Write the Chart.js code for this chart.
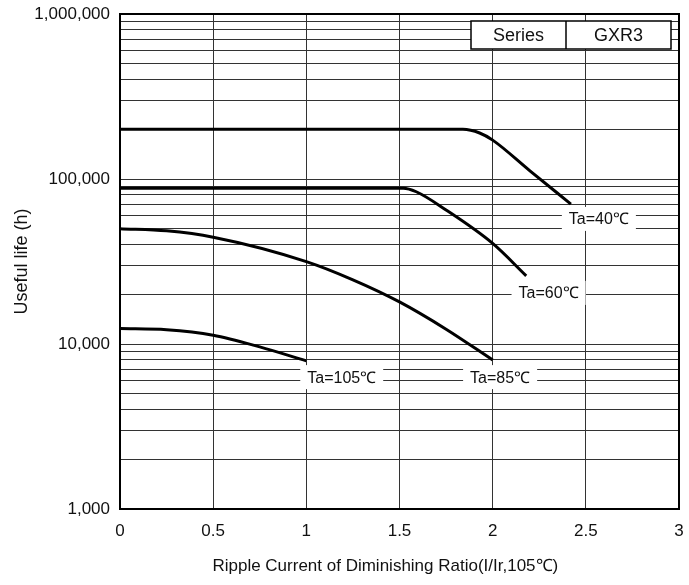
<!DOCTYPE html>
<html>
<head>
<meta charset="utf-8">
<script src="https://cdn.jsdelivr.net/npm/chart.js@4.4.1/dist/chart.umd.min.js"></script>
<style>
  html, body { margin: 0; padding: 0; background: #fff; }
  #wrap { width: 689px; height: 585px; }
</style>
</head>
<body>
<div id="wrap"><canvas id="lifeChart" width="689" height="585"></canvas></div>
<script>
// Useful life vs ripple current ratio - series GXR3

// x = ripple current ratio (I/Ir), y = useful life (h)
const ratio40 = [0, 1.84, 1.93, 2.0, 2.2, 2.42];
const life40 = [200000, 200000, 190000, 172000, 112000, 70500];

const ratio60 = [0, 1.52, 1.59, 1.75, 2.0, 2.18];
const life60 = [88000, 88000, 83700, 64900, 40700, 25900];

const ratio85 = [0, 0.25, 0.5, 1.0, 1.25, 1.5, 1.75, 2.0];
const life85 = [50000, 48500, 44400, 31600, 24500, 18000, 12300, 8000];

const ratio105 = [0, 0.25, 0.5, 0.75, 1.0];
const life105 = [12400, 12200, 11300, 9600, 7900];

const yDecades = [1000, 10000, 100000, 1000000];

// curve names and where they sit (data coords)
const curveNames = ['Ta=40℃', 'Ta=60℃', 'Ta=85℃', 'Ta=105℃'];
const nameX = [2.57, 2.30, 2.04, 1.19];
const nameY = [57300, 20400, 6300, 6300];

const seriesCells = ['Series', 'GXR3'];

const FONT = "'Liberation Sans', Arial, sans-serif";

function pts(xs, ys) {
    var out = [];
    for (var i = 0; i < xs.length; i++) {
        out.push({x: xs[i], y: ys[i]});
    }
    return out;
}

function curve(xs, ys) {
    return {
        data: pts(xs, ys),
        borderColor: '#000',
        borderWidth: 3,
        pointRadius: 0,
        fill: false,
        cubicInterpolationMode: 'monotone'
    };
}

// frame around the plot
const framePlugin = {
    id: 'frame',
    afterDatasetsDraw(chart) {
        const a = chart.chartArea;
        const ctx = chart.ctx;
        ctx.save();
        ctx.strokeStyle = '#000';
        ctx.lineWidth = 2;
        ctx.strokeRect(a.left, a.top, a.right - a.left, a.bottom - a.top);
        ctx.restore();
    }
};

// Ta=.. labels with white box over the grid
const namePlugin = {
    id: 'curveNames',
    afterDatasetsDraw(chart) {
        const ctx = chart.ctx;
        const xs = chart.scales.x, ys = chart.scales.y;
        ctx.save();
        ctx.font = '16px ' + FONT;
        ctx.textAlign = 'center';
        ctx.textBaseline = 'middle';
        for (var i = 0; i < curveNames.length; i++) {
            var px = xs.getPixelForValue(nameX[i]);
            var py = ys.getPixelForValue(nameY[i]);
            var w = ctx.measureText(curveNames[i]).width + 14;
            ctx.fillStyle = '#fff';
            ctx.fillRect(px - w / 2, py - 12, w, 24);
            ctx.fillStyle = '#111';
            ctx.fillText(curveNames[i], px, py + 1);
        }
        ctx.restore();
    }
};

// "Series | GXR3" box, top right
const seriesPlugin = {
    id: 'seriesBox',
    afterDatasetsDraw(chart) {
        const a = chart.chartArea;
        const ctx = chart.ctx;
        const w = 200, h = 28;
        const x0 = a.right - 8 - w, y0 = a.top + 7;
        const split = x0 + 95;
        ctx.save();
        ctx.fillStyle = '#fff';
        ctx.fillRect(x0, y0, w, h);
        ctx.strokeStyle = '#000';
        ctx.lineWidth = 1.5;
        ctx.strokeRect(x0, y0, w, h);
        ctx.beginPath();
        ctx.moveTo(split, y0);
        ctx.lineTo(split, y0 + h);
        ctx.stroke();
        ctx.fillStyle = '#111';
        ctx.font = '18px ' + FONT;
        ctx.textAlign = 'center';
        ctx.textBaseline = 'middle';
        ctx.fillText(seriesCells[0], (x0 + split) / 2, y0 + h / 2 + 1);
        ctx.fillText(seriesCells[1], (split + x0 + w) / 2, y0 + h / 2 + 1);
        ctx.restore();
    }
};

const ctx = document.getElementById('lifeChart');

const lifeChart = new Chart(ctx, {
    type: 'line',
    data: {
        datasets: [
            curve(ratio40, life40),
            curve(ratio60, life60),
            curve(ratio85, life85),
            curve(ratio105, life105)
        ]
    },
    options: {
        responsive: false,
        animation: false,
        layout: {
            padding: {top: 14, right: 10, left: 0, bottom: 0}
        },
        plugins: {
            legend: {display: false},
            tooltip: {enabled: false}
        },
        scales: {
            x: {
                type: 'linear',
                min: 0,
                max: 3,
                ticks: {
                    stepSize: 0.5,
                    color: '#111',
                    padding: 12,
                    font: {family: FONT, size: 17},
                    callback: function(v) { return String(v); }
                },
                grid: {color: '#333', lineWidth: 1, drawTicks: false},
                border: {color: '#000', width: 2},
                title: {
                    display: true,
                    // trailing spaces push the title a bit left, like the original
                    text: 'Ripple Current of Diminishing Ratio(I/Ir,105℃)\u00a0\u00a0\u00a0\u00a0\u00a0\u00a0',
                    color: '#111',
                    font: {family: FONT, size: 17},
                    padding: {top: 0, bottom: 8}
                },
                afterFit: function(scale) {
                    scale.height = 76;
                    scale.paddingLeft = 0;
                    scale.paddingRight = 0;
                }
            },
            y: {
                type: 'logarithmic',
                min: 1000,
                max: 1000000,
                afterBuildTicks: function(scale) {
                    // 1..9 steps in each decade
                    var t = [];
                    for (var d = 0; d < yDecades.length - 1; d++) {
                        for (var k = 1; k < 10; k++) {
                            t.push({value: yDecades[d] * k});
                        }
                    }
                    t.push({value: yDecades[yDecades.length - 1]});
                    scale.ticks = t;
                },
                ticks: {
                    autoSkip: false,
                    color: '#111',
                    padding: 10,
                    font: {family: FONT, size: 17},
                    callback: function(v) {
                        return yDecades.indexOf(v) >= 0 ? v.toLocaleString('en-US') : '';
                    }
                },
                grid: {color: '#333', lineWidth: 1, drawTicks: false},
                border: {color: '#000', width: 2},
                title: {
                    display: true,
                    text: 'Useful life (h)',
                    color: '#111',
                    font: {family: FONT, size: 18},
                    padding: {top: 11, bottom: 0}
                },
                afterFit: function(scale) {
                    scale.width = 120;
                    scale.paddingTop = 0;
                    scale.paddingBottom = 0;
                }
            }
        }
    },
    plugins: [framePlugin, namePlugin, seriesPlugin]
});
</script>
</body>
</html>
